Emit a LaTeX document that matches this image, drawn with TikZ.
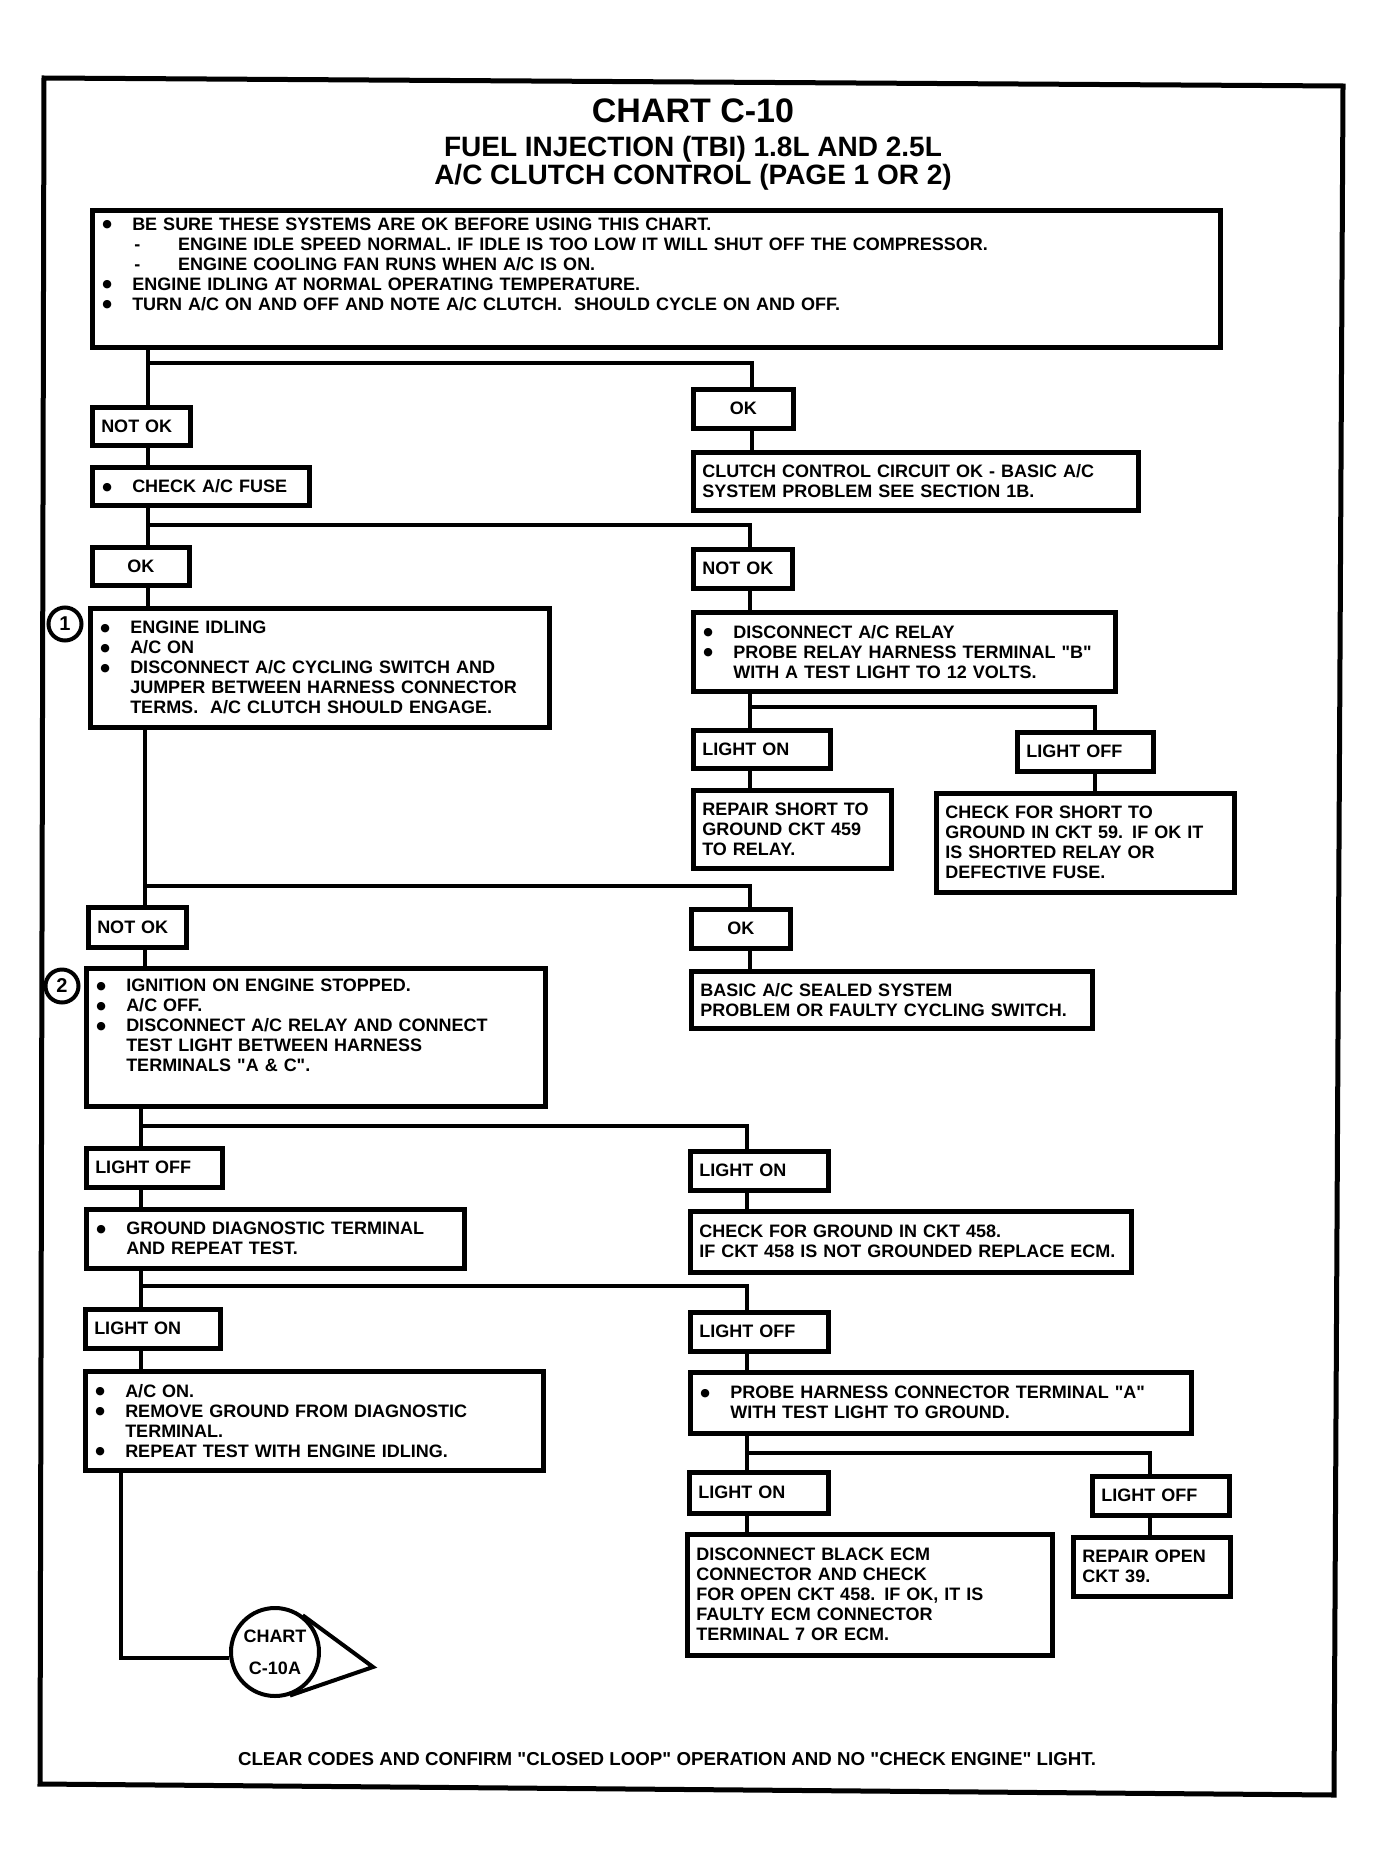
\documentclass[tikz,border=0pt]{standalone}
\usepackage{fontspec}
\setmainfont{Liberation Sans}[Ligatures=TeXOff]
\newfontfamily\dotfont{DejaVu Sans}
\usepackage{tikz}

\newcommand{\bodyfont}{\fontsize{18}{20}\selectfont\bfseries}
\newcommand{\bitem}{\makebox[31pt][l]{\hspace{1pt}\raisebox{2.5pt}{\dotfont\fontsize{11}{11}\selectfont ●}}}
\newcommand{\bcont}{\hspace*{31pt}}
\newcommand{\bdash}{\hspace*{33pt}\makebox[44pt][l]{-}}

\begin{document}
\begin{tikzpicture}[x=1pt, y=-1pt, every node/.style={font=\bodyfont}]
    % Define styles
    \tikzstyle{box} = [draw, line width=4.5pt, anchor=north west, inner xsep=9pt, inner ysep=0pt, align=left]
    \tikzstyle{tag} = [box, align=left]
    \tikzstyle{okbox} = [box, align=center]
    \tikzstyle{num} = [circle, draw, line width=4pt, inner sep=0pt, minimum size=33pt, font=\fontsize{20}{22}\selectfont\bfseries]
    \tikzstyle{link} = [line width=4pt]

    \useasboundingbox (0,0) rectangle (1388,1873);

    % Page frame
    \draw [line width=5pt] (44,78) -- (1343,86) -- (1334,1795) -- (40,1784) -- cycle;

    % Title
    \node (title) [anchor=base, font=\fontsize{34}{36}\selectfont\bfseries] at (693,123) {CHART C-10};
    \node (subtitle) [anchor=base, font=\fontsize{28}{30}\selectfont\bfseries] at (693,157) {FUEL INJECTION (TBI) 1.8L AND 2.5L};
    \node (subtitle2) [anchor=base, font=\fontsize{28}{30}\selectfont\bfseries] at (693,184) {A/C CLUTCH CONTROL (PAGE 1 OR 2)};

    % Start box
    \node (intro) [box, text width=1110pt, minimum height=137pt] at (90,208)
        {\bitem BE SURE THESE SYSTEMS ARE OK BEFORE USING THIS CHART.\\
         \bdash ENGINE IDLE SPEED NORMAL. IF IDLE IS TOO LOW IT WILL SHUT OFF THE COMPRESSOR.\\
         \bdash ENGINE COOLING FAN RUNS WHEN A/C IS ON.\\
         \bitem ENGINE IDLING AT NORMAL OPERATING TEMPERATURE.\\
         \bitem TURN A/C ON AND OFF AND NOTE A/C CLUTCH.\ \ SHOULD CYCLE ON AND OFF.\\[10pt]
         \mbox{}};

    % First split
    \node (notokA) [tag, text width=80pt, minimum height=38pt] at (90,405) {NOT OK};
    \node (okA) [okbox, text width=82pt, minimum height=39pt] at (691,387) {OK};
    \node (clutchok) [box, text width=427pt, minimum height=58pt] at (691,450)
        {CLUTCH CONTROL CIRCUIT OK - BASIC A/C\\ SYSTEM PROBLEM SEE SECTION 1B.};
    \node (fuse) [box, text width=199pt, minimum height=38pt] at (90,465) {\bitem CHECK A/C FUSE};

    % Fuse split
    \node (okB) [okbox, text width=79pt, minimum height=38pt] at (90,545) {OK};
    \node (notokB) [tag, text width=81pt, minimum height=39pt] at (691,547) {NOT OK};
    \node (idle) [box, text width=441pt, minimum height=119pt] at (88,606)
        {\bitem ENGINE IDLING\\
         \bitem A/C ON\\
         \bitem DISCONNECT A/C CYCLING SWITCH AND\\
         \bcont JUMPER BETWEEN HARNESS CONNECTOR\\
         \bcont TERMS.\ \ A/C CLUTCH SHOULD ENGAGE.};
    \node (one) [num] at (65,624) {1};
    \node (relay) [box, text width=404pt, minimum height=79pt] at (691,610)
        {\bitem DISCONNECT A/C RELAY\\
         \bitem PROBE RELAY HARNESS TERMINAL "B"\\
         \bcont WITH A TEST LIGHT TO 12 VOLTS.};
    \node (lonA) [tag, text width=119pt, minimum height=38pt] at (691,728) {LIGHT ON};
    \node (loffA) [tag, text width=118pt, minimum height=39pt] at (1015,730) {LIGHT OFF};
    \node (repshort) [box, text width=180pt, minimum height=78pt] at (691,788)
        {REPAIR SHORT TO\\ GROUND CKT 459\\ TO RELAY.};
    \node (chkshort) [box, text width=280pt, minimum height=99pt] at (934,791)
        {CHECK FOR SHORT TO\\ GROUND IN CKT 59. IF OK IT\\ IS SHORTED RELAY OR\\ DEFECTIVE FUSE.};

    % Clutch test split
    \node (notokC) [tag, text width=80pt, minimum height=40pt] at (86,905) {NOT OK};
    \node (okC) [okbox, text width=81pt, minimum height=39pt] at (689,907) {OK};
    \node (ign) [box, text width=441pt, minimum height=138pt] at (84,966)
        {\bitem IGNITION ON ENGINE STOPPED.\\
         \bitem A/C OFF.\\
         \bitem DISCONNECT A/C RELAY AND CONNECT\\
         \bcont TEST LIGHT BETWEEN HARNESS\\
         \bcont TERMINALS "A \& C".\\[4pt]
         \mbox{}};
    \node (two) [num] at (62,986) {2};
    \node (sealed) [box, text width=383pt, minimum height=57pt] at (689,969)
        {BASIC A/C SEALED SYSTEM\\ PROBLEM OR FAULTY CYCLING SWITCH.};

    % Test light split
    \node (loffB) [tag, text width=118pt, minimum height=39pt] at (84,1146) {LIGHT OFF};
    \node (lonB) [tag, text width=120pt, minimum height=39pt] at (688,1149) {LIGHT ON};
    \node (gnddiag) [box, text width=360pt, minimum height=59pt] at (84,1207)
        {\bitem GROUND DIAGNOSTIC TERMINAL\\ \bcont AND REPEAT TEST.};
    \node (chkgnd) [box, text width=423pt, minimum height=61pt] at (688,1209)
        {CHECK FOR GROUND IN CKT 458.\\ IF CKT 458 IS NOT GROUNDED REPLACE ECM.};

    % Diagnostic terminal split
    \node (lonC) [tag, text width=117pt, minimum height=39pt] at (83,1307) {LIGHT ON};
    \node (loffC) [tag, text width=120pt, minimum height=39pt] at (688,1310) {LIGHT OFF};
    \node (acon) [box, text width=440pt, minimum height=99pt] at (83,1369)
        {\bitem A/C ON.\\
         \bitem REMOVE GROUND FROM DIAGNOSTIC\\
         \bcont TERMINAL.\\
         \bitem REPEAT TEST WITH ENGINE IDLING.};
    \node (probe) [box, text width=483pt, minimum height=61pt] at (688,1370)
        {\bitem PROBE HARNESS CONNECTOR TERMINAL "A"\\ \bcont WITH TEST LIGHT TO GROUND.};

    % Probe split
    \node (lonD) [tag, text width=121pt, minimum height=41pt] at (687,1470) {LIGHT ON};
    \node (loffD) [tag, text width=119pt, minimum height=39pt] at (1090,1474) {LIGHT OFF};
    \node (ecm) [box, text width=347pt, minimum height=121pt] at (685,1532)
        {DISCONNECT BLACK ECM\\ CONNECTOR AND CHECK\\ FOR OPEN CKT 458. IF OK, IT IS\\ FAULTY ECM CONNECTOR\\ TERMINAL 7 OR ECM.};
    \node (repopen) [box, text width=139pt, minimum height=59pt] at (1071,1535)
        {REPAIR OPEN\\ CKT 39.};

    % Off-page connector
    \node (chart) [circle, draw, line width=4pt, inner sep=0pt, minimum size=88pt, align=center] at (275,1652)
        {CHART\\[12pt]C-10A};
    \coordinate (chartTip) at (373,1667);

    % Footer
    \node (footer) [anchor=base, font=\fontsize{18.7}{20}\selectfont\bfseries] at (667,1765)
        {CLEAR CODES AND CONFIRM "CLOSED LOOP" OPERATION AND NO "CHECK ENGINE" LIGHT.};

    % Line columns and branch rows
    \coordinate (c1) at (148,0);
    \coordinate (c2) at (145,0);
    \coordinate (c3) at (141,0);
    \coordinate (c4) at (121,0);
    \coordinate (d1) at (752,0);
    \coordinate (d2) at (750,0);
    \coordinate (d3) at (747,0);
    \coordinate (e1) at (1095,0);
    \coordinate (e2) at (1150,0);
    \coordinate (r1) at (0,363);
    \coordinate (r2) at (0,525);
    \coordinate (r3) at (0,707);
    \coordinate (r4) at (0,886);
    \coordinate (r5) at (0,1126);
    \coordinate (r6) at (0,1286);
    \coordinate (r7) at (0,1453);

    % Connectors
    \draw [link] (intro.south -| c1) -- (notokA.north -| c1);
    \draw [link] (c1 |- r1) -| (okA.north -| d1);
    \draw [link] (okA.south -| d1) -- (clutchok.north -| d1);
    \draw [link] (notokA.south -| c1) -- (fuse.north -| c1);
    \draw [link] (fuse.south -| c1) -- (okB.north -| c1);
    \draw [link] (c1 |- r2) -| (notokB.north -| d2);
    \draw [link] (okB.south -| c1) -- (idle.north -| c1);
    \draw [link] (notokB.south -| d2) -- (relay.north -| d2);
    \draw [link] (relay.south -| d2) -- (lonA.north -| d2);
    \draw [link] (d2 |- r3) -| (loffA.north -| e1);
    \draw [link] (lonA.south -| d2) -- (repshort.north -| d2);
    \draw [link] (loffA.south -| e1) -- (chkshort.north -| e1);
    \draw [link] (idle.south -| c2) -- (notokC.north -| c2);
    \draw [link] (c2 |- r4) -| (okC.north -| d2);
    \draw [link] (notokC.south -| c2) -- (ign.north -| c2);
    \draw [link] (okC.south -| d2) -- (sealed.north -| d2);
    \draw [link] (ign.south -| c3) -- (loffB.north -| c3);
    \draw [link] (c3 |- r5) -| (lonB.north -| d3);
    \draw [link] (loffB.south -| c3) -- (gnddiag.north -| c3);
    \draw [link] (lonB.south -| d3) -- (chkgnd.north -| d3);
    \draw [link] (gnddiag.south -| c3) -- (lonC.north -| c3);
    \draw [link] (c3 |- r6) -| (loffC.north -| d3);
    \draw [link] (lonC.south -| c3) -- (acon.north -| c3);
    \draw [link] (loffC.south -| d3) -- (probe.north -| d3);
    \draw [link] (probe.south -| d3) -- (lonD.north -| d3);
    \draw [link] (d3 |- r7) -| (loffD.north -| e2);
    \draw [link] (lonD.south -| d3) -- (ecm.north -| d3);
    \draw [link] (loffD.south -| e2) -- (repopen.north -| e2);
    \draw [link] (acon.south -| c4) |- (chart.187);
    \draw [link] (chart.53.6) -- (chartTip) -- (chart.-71);
\end{tikzpicture}
\end{document}
